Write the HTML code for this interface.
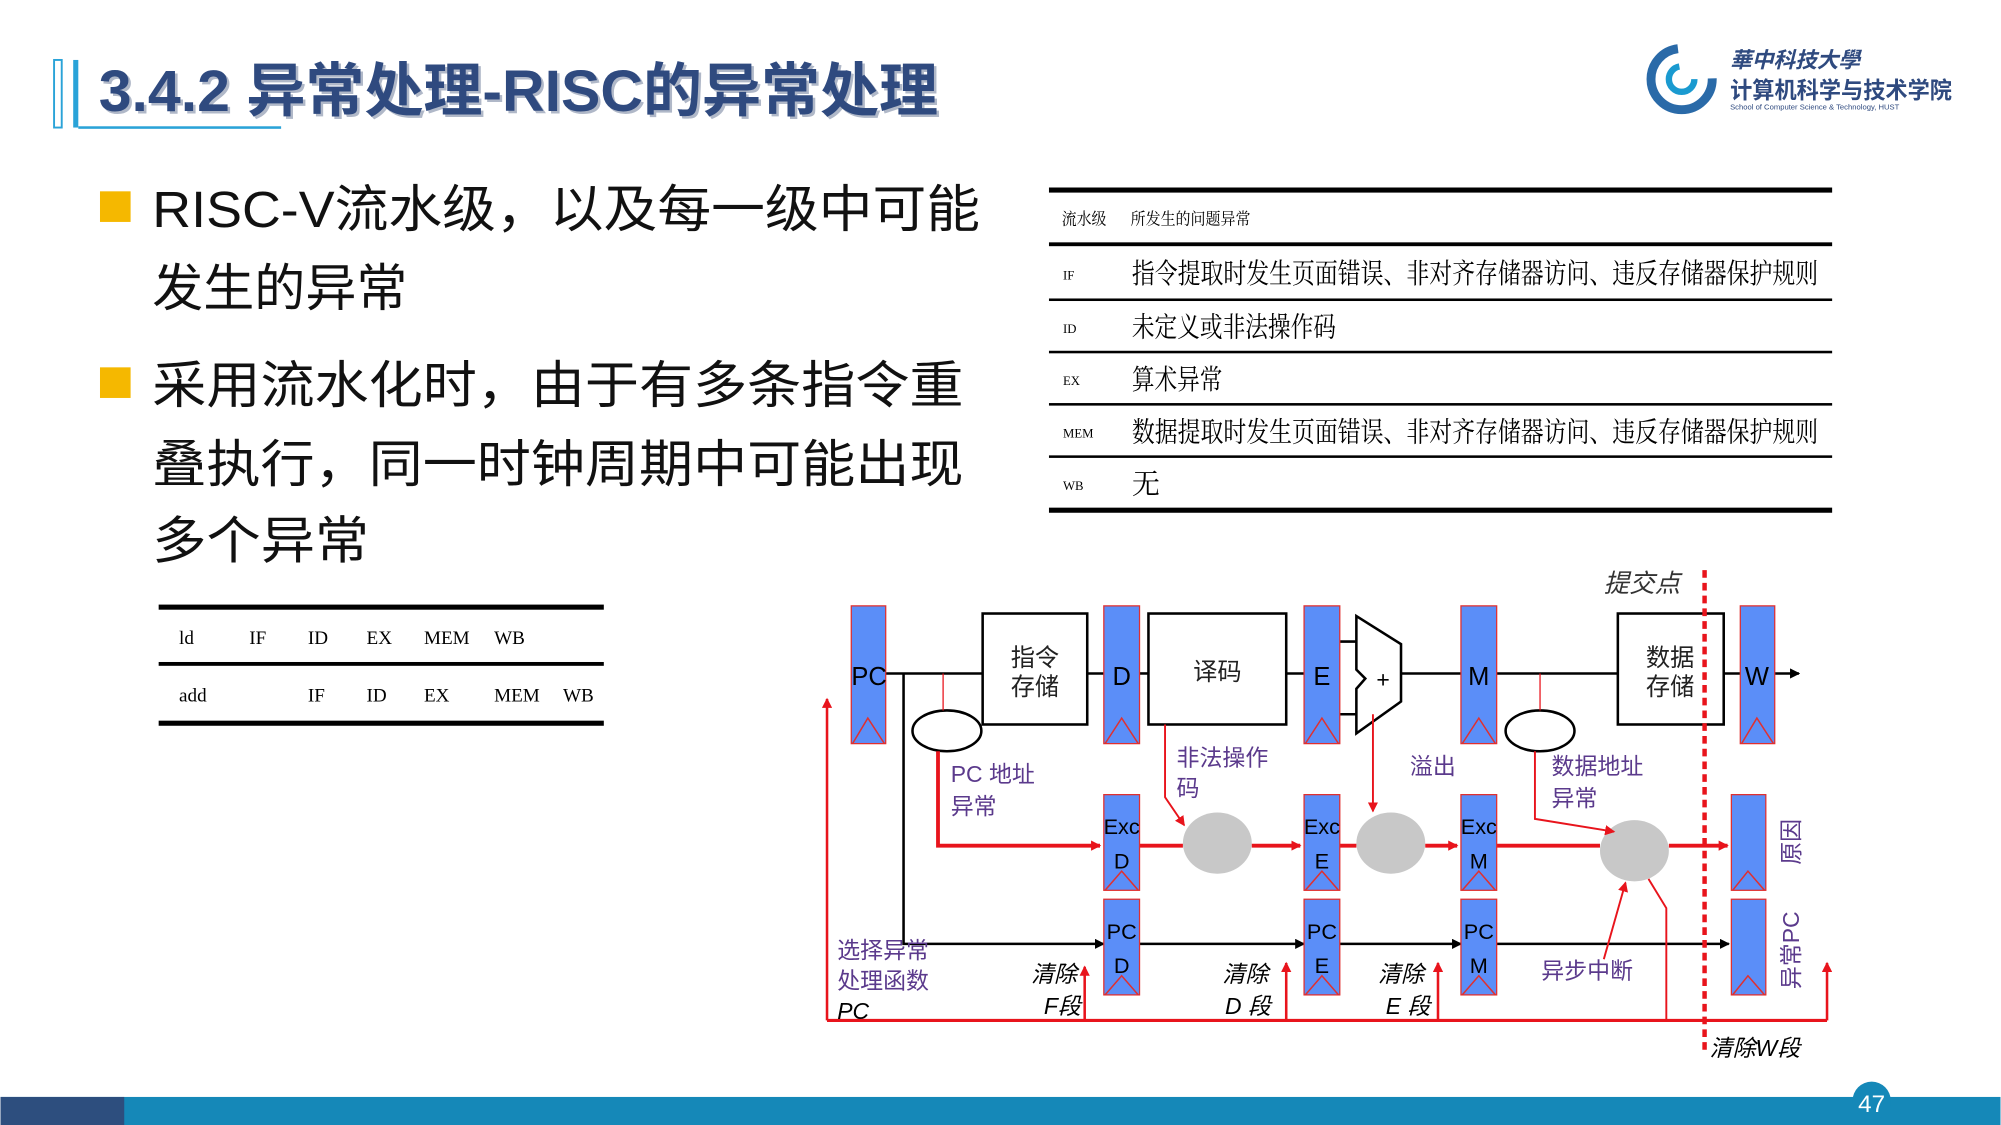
<!DOCTYPE html>
<html><head><meta charset="utf-8"><style>
html,body{margin:0;padding:0;background:#fff;}
svg{display:block;}
text{font-family:"Liberation Sans","Noto Sans CJK SC",sans-serif;}
.serif text{font-family:"Liberation Serif","Noto Serif CJK SC",serif;}
.reg{fill:#5b8ef8;stroke:#e03030;stroke-width:1;}
.tri{fill:none;stroke:#e03030;stroke-width:1.2;}
.blk{stroke:#000;stroke-width:2;fill:none;}
.red{stroke:#e8141c;stroke-width:1.5;fill:none;}
.redt{stroke:#e8141c;stroke-width:3;fill:none;}
.pur{fill:#5b3a8c;font-size:18px;}
.it{font-style:italic;font-size:18px;fill:#000;}
</style></head><body>
<svg width="2001" height="1125" viewBox="0 0 1568 882" xmlns="http://www.w3.org/2000/svg">
<defs>
<marker id="ab" markerWidth="8" markerHeight="8" refX="7" refY="4" orient="auto" markerUnits="userSpaceOnUse"><path d="M0,0 L8,4 L0,8 z" fill="#000"/></marker>
<marker id="ar" markerWidth="8" markerHeight="8" refX="7" refY="4" orient="auto" markerUnits="userSpaceOnUse"><path d="M0,0 L8,4 L0,8 z" fill="#e8141c"/></marker>
</defs>
<!-- title -->
<rect x="42" y="47" width="6" height="53" fill="none" stroke="#2aa3d8" stroke-width="1.5"/>
<rect x="57" y="47" width="4" height="53" fill="#2aa3d8"/>
<rect x="61" y="99" width="159" height="2" fill="#2aa3d8"/>
<text x="77" y="87" font-size="46" font-weight="bold" fill="#b0b8c8" transform="translate(2,2)" textLength="658" lengthAdjust="spacingAndGlyphs">3.4.2 异常处理-RISC的异常处理</text>
<text x="77" y="87" font-size="46" font-weight="bold" fill="#2f4a7f" textLength="658" lengthAdjust="spacingAndGlyphs">3.4.2 异常处理-RISC的异常处理</text>
<!-- logo -->
<circle cx="1318" cy="62" r="24" fill="none" stroke="#2a6aa8" stroke-width="7" stroke-dasharray="110 40"/>
<circle cx="1318" cy="62" r="10" fill="none" stroke="#1a9ad0" stroke-width="5" stroke-dasharray="45 20"/>
<text x="1356" y="53" font-size="17" font-weight="bold" fill="#2f4a7f" font-style="italic">華中科技大學</text>
<text x="1356" y="77" font-size="18" font-weight="bold" fill="#2f4a7f" textLength="174" lengthAdjust="spacingAndGlyphs">计算机科学与技术学院</text>
<text x="1356" y="86" font-size="6" fill="#2f4a7f">School of Computer Science &amp; Technology, HUST</text>
<!-- bullets -->
<rect x="78" y="150" width="24" height="24" fill="#f5b800"/>
<text x="119" y="178" font-size="40" fill="#111" textLength="649" lengthAdjust="spacingAndGlyphs">RISC-V流水级，以及每一级中可能</text>
<text x="119" y="240" font-size="40" fill="#111">发生的异常</text>
<rect x="78" y="288" width="24" height="24" fill="#f5b800"/>
<text x="119" y="316" font-size="40" fill="#111" textLength="636" lengthAdjust="spacingAndGlyphs">采用流水化时，由于有多条指令重</text>
<text x="119" y="378" font-size="40" fill="#111" textLength="636" lengthAdjust="spacingAndGlyphs">叠执行，同一时钟周期中可能出现</text>
<text x="119" y="438" font-size="40" fill="#111" textLength="170" lengthAdjust="spacingAndGlyphs">多个异常</text>
<!-- small table -->
<rect x="124" y="474" width="349" height="4" fill="#000"/>
<rect x="124" y="519" width="349" height="3" fill="#000"/>
<rect x="124" y="565" width="349" height="4" fill="#000"/>
<g class="serif" font-size="15" fill="#000">
<text x="140" y="505">ld</text><text x="195" y="505">IF</text><text x="241" y="505">ID</text><text x="287" y="505">EX</text><text x="332" y="505">MEM</text><text x="387" y="505">WB</text>
<text x="140" y="550">add</text><text x="241" y="550">IF</text><text x="287" y="550">ID</text><text x="332" y="550">EX</text><text x="387" y="550">MEM</text><text x="441" y="550">WB</text>
</g>
<!-- right table -->
<rect x="822" y="147" width="614" height="4" fill="#000"/>
<rect x="822" y="190" width="614" height="3" fill="#000"/>
<rect x="822" y="234" width="614" height="2" fill="#000"/>
<rect x="822" y="275" width="614" height="2" fill="#000"/>
<rect x="822" y="316" width="614" height="2" fill="#000"/>
<rect x="822" y="357" width="614" height="2" fill="#000"/>
<rect x="822" y="398" width="614" height="4" fill="#000"/>
<g class="serif" fill="#000">
<text x="832" y="176" font-size="13" textLength="35" lengthAdjust="spacingAndGlyphs">流水级</text><text x="886" y="176" font-size="13" textLength="94" lengthAdjust="spacingAndGlyphs">所发生的问题异常</text>
<text x="833" y="219" font-size="10">IF</text><text x="833" y="261" font-size="10">ID</text><text x="833" y="302" font-size="10">EX</text><text x="833" y="343" font-size="10">MEM</text><text x="833" y="384" font-size="10">WB</text>
<text x="887" y="222" font-size="22" textLength="538" lengthAdjust="spacingAndGlyphs">指令提取时发生页面错误、非对齐存储器访问、违反存储器保护规则</text>
<text x="887" y="264" font-size="22" textLength="160" lengthAdjust="spacingAndGlyphs">未定义或非法操作码</text>
<text x="887" y="305" font-size="22" textLength="71" lengthAdjust="spacingAndGlyphs">算术异常</text>
<text x="887" y="346" font-size="22" textLength="538" lengthAdjust="spacingAndGlyphs">数据提取时发生页面错误、非对齐存储器访问、违反存储器保护规则</text>
<text x="887" y="387" font-size="22">无</text>
</g>
<!-- diagram: lines -->
<g class="blk">
<line x1="694" y1="528" x2="770" y2="528"/><line x1="852" y1="528" x2="865" y2="528"/>
<line x1="893" y1="528" x2="900" y2="528"/><line x1="1008" y1="528" x2="1022" y2="528"/>
<line x1="1050" y1="503" x2="1063" y2="503"/><line x1="1050" y1="560" x2="1063" y2="560"/>
<line x1="1098" y1="528" x2="1145" y2="528"/><line x1="1173" y1="528" x2="1268" y2="528"/>
<line x1="1351" y1="528" x2="1364" y2="528"/><line x1="1391" y1="528" x2="1410" y2="528" marker-end="url(#ab)"/>
<polyline points="708,528 708,740 865,740" marker-end="url(#ab)"/>
<line x1="893" y1="740" x2="1022" y2="740" marker-end="url(#ab)"/>
<line x1="1050" y1="740" x2="1145" y2="740" marker-end="url(#ab)"/>
<line x1="1173" y1="740" x2="1355" y2="740" marker-end="url(#ab)"/>
<rect x="770" y="481" width="82" height="87" fill="#fff"/>
<rect x="900" y="481" width="108" height="87" fill="#fff"/>
<rect x="1268" y="481" width="83" height="87" fill="#fff"/>
<polygon points="1063,483 1098,505 1098,550 1063,575 1063,540 1070,532 1063,525" fill="#fff"/>
<ellipse cx="742" cy="573" rx="27" ry="16" fill="#fff"/>
<ellipse cx="1207" cy="573" rx="27" ry="16" fill="#fff"/>
</g>
<line x1="739" y1="528" x2="739" y2="557" stroke="#e8141c" stroke-width="1"/>
<line x1="1207" y1="528" x2="1207" y2="557" stroke="#e8141c" stroke-width="1"/>
<text x="1084" y="539" font-size="18" text-anchor="middle">+</text>
<text x="811" y="522" font-size="19" text-anchor="middle" fill="#222">指令</text>
<text x="811" y="545" font-size="19" text-anchor="middle" fill="#222">存储</text>
<text x="954" y="533" font-size="19" text-anchor="middle" fill="#222">译码</text>
<text x="1309" y="522" font-size="19" text-anchor="middle" fill="#222">数据</text>
<text x="1309" y="545" font-size="19" text-anchor="middle" fill="#222">存储</text>
<!-- gray circles -->
<ellipse cx="954" cy="661" rx="27" ry="24" fill="#c8c8c8"/>
<ellipse cx="1090" cy="661" rx="27" ry="24" fill="#c8c8c8"/>
<ellipse cx="1281" cy="667" rx="27" ry="24" fill="#c8c8c8"/>
<!-- red lines -->
<polyline class="redt" points="735,589 735,663 862,663" marker-end="url(#ar)"/>
<line class="redt" x1="893" y1="663" x2="927" y2="663"/><line class="redt" x1="981" y1="663" x2="1019" y2="663" marker-end="url(#ar)"/>
<line class="redt" x1="1050" y1="663" x2="1063" y2="663"/><line class="redt" x1="1117" y1="663" x2="1142" y2="663" marker-end="url(#ar)"/>
<line class="redt" x1="1173" y1="663" x2="1254" y2="663"/><line class="redt" x1="1308" y1="663" x2="1354" y2="663" marker-end="url(#ar)"/>
<polyline class="red" points="913,568 913,625 928,647" marker-end="url(#ar)"/>
<line class="red" x1="1076" y1="560" x2="1076" y2="636" marker-end="url(#ar)"/>
<polyline class="red" points="1203,589 1203,642 1265,652" marker-end="url(#ar)"/>
<line class="red" x1="1257" y1="752" x2="1274" y2="692" marker-end="url(#ar)"/>
<polyline class="red" points="1292,689 1306,712 1306,800"/>
<polyline stroke="#e8141c" stroke-width="2.5" fill="none" points="1432,800 648,800"/>
<line stroke="#e8141c" stroke-width="2" x1="648" y1="800" x2="648" y2="548" marker-end="url(#ar)"/>
<line stroke="#e8141c" stroke-width="2" x1="1432" y1="800" x2="1432" y2="755" marker-end="url(#ar)"/>
<line stroke="#e8141c" stroke-width="2" x1="850" y1="800" x2="850" y2="758" marker-end="url(#ar)"/>
<line stroke="#e8141c" stroke-width="2" x1="1008" y1="800" x2="1008" y2="755" marker-end="url(#ar)"/>
<line stroke="#e8141c" stroke-width="2" x1="1127" y1="800" x2="1127" y2="755" marker-end="url(#ar)"/>
<line x1="1336" y1="447" x2="1336" y2="825" stroke="#e8141c" stroke-width="3.5" stroke-dasharray="6 4"/>
<!-- registers -->
<g>
<rect class="reg" x="667" y="475" width="27" height="108"/><polyline class="tri" points="668,583 680,563 693,583"/>
<rect class="reg" x="865" y="475" width="28" height="108"/><polyline class="tri" points="866,583 879,563 892,583"/>
<rect class="reg" x="1022" y="475" width="28" height="108"/><polyline class="tri" points="1023,583 1036,563 1049,583"/>
<rect class="reg" x="1145" y="475" width="28" height="108"/><polyline class="tri" points="1146,583 1159,563 1172,583"/>
<rect class="reg" x="1364" y="475" width="27" height="108"/><polyline class="tri" points="1365,583 1377,563 1390,583"/>
<rect class="reg" x="865" y="623" width="28" height="75"/><polyline class="tri" points="866,698 879,683 892,698"/>
<rect class="reg" x="1022" y="623" width="28" height="75"/><polyline class="tri" points="1023,698 1036,683 1049,698"/>
<rect class="reg" x="1145" y="623" width="28" height="75"/><polyline class="tri" points="1146,698 1159,683 1172,698"/>
<rect class="reg" x="1357" y="623" width="27" height="75"/><polyline class="tri" points="1358,698 1370,683 1383,698"/>
<rect class="reg" x="865" y="705" width="28" height="75"/><polyline class="tri" points="866,780 879,765 892,780"/>
<rect class="reg" x="1022" y="705" width="28" height="75"/><polyline class="tri" points="1023,780 1036,765 1049,780"/>
<rect class="reg" x="1145" y="705" width="28" height="75"/><polyline class="tri" points="1146,780 1159,765 1172,780"/>
<rect class="reg" x="1357" y="705" width="27" height="75"/><polyline class="tri" points="1358,780 1370,765 1383,780"/>
</g>
<g font-size="20" text-anchor="middle" fill="#000">
<text x="681" y="537">PC</text><text x="879" y="537">D</text><text x="1036" y="537">E</text><text x="1159" y="537">M</text><text x="1377" y="537">W</text>
</g>
<g font-size="17" text-anchor="middle" fill="#000">
<text x="879" y="654">Exc</text><text x="879" y="681">D</text>
<text x="1036" y="654">Exc</text><text x="1036" y="681">E</text>
<text x="1159" y="654">Exc</text><text x="1159" y="681">M</text>
<text x="879" y="736">PC</text><text x="879" y="763">D</text>
<text x="1036" y="736">PC</text><text x="1036" y="763">E</text>
<text x="1159" y="736">PC</text><text x="1159" y="763">M</text>
</g>
<!-- labels -->
<text x="1257" y="464" font-size="20" font-style="italic" fill="#333">提交点</text>
<text class="pur" x="745" y="613">PC 地址</text><text class="pur" x="745" y="638">异常</text>
<text class="pur" x="922" y="600">非法操作</text><text class="pur" x="922" y="624">码</text>
<text class="pur" x="1105" y="607">溢出</text>
<text class="pur" x="1216" y="607">数据地址</text><text class="pur" x="1216" y="632">异常</text>
<text class="pur" x="656" y="751">选择异常</text><text class="pur" x="656" y="775">处理函数</text>
<text class="it" x="656" y="799">PC</text>
<text class="it" x="808" y="770">清除</text><text class="it" x="818" y="795">F段</text>
<text class="it" x="958" y="770">清除</text><text class="it" x="960" y="795">D 段</text>
<text class="it" x="1080" y="770">清除</text><text class="it" x="1086" y="795">E 段</text>
<text class="pur" x="1208" y="767" font-size="19">异步中断</text>
<text class="it" x="1340" y="828">清除W段</text>
<text class="pur" x="1392" y="660" transform="rotate(-90 1392 660)" text-anchor="middle" dy="18" font-size="19">原因</text>
<text class="pur" x="1392" y="745" transform="rotate(-90 1392 745)" text-anchor="middle" dy="18" font-size="19">异常PC</text>
<!-- footer -->
<rect x="0" y="860" width="1568" height="22" fill="#1588b8"/>
<rect x="0" y="860" width="97" height="22" fill="#2d4e7e"/>
<ellipse cx="1467" cy="863" rx="15" ry="15" fill="#1588b8"/>
<text x="1467" y="872" font-size="19" fill="#fff" text-anchor="middle">47</text>
</svg>
</body></html>
